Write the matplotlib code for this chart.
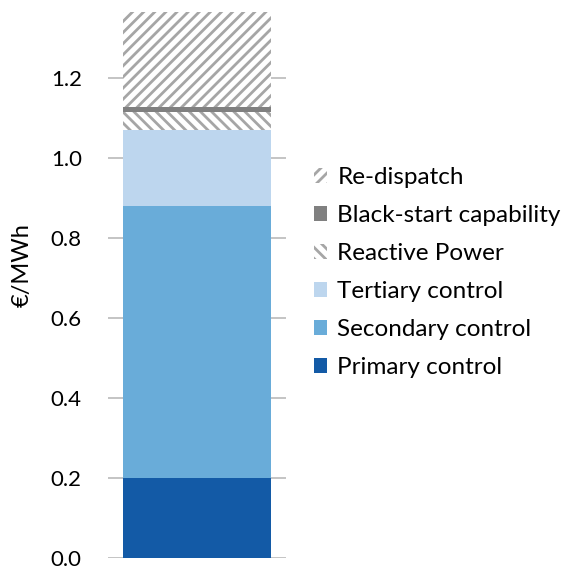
import matplotlib.pyplot as plt

plt.rcParams['hatch.linewidth'] = 2.0
plt.rcParams['hatch.color'] = '#a6a6a6'
plt.rcParams['font.family'] = ['Lato', 'DejaVu Sans']

# data (€/MWh)
components = ['Primary control', 'Secondary control', 'Tertiary control',
              'Reactive Power', 'Black-start capability', 'Re-dispatch']
values = [0.20, 0.68, 0.19, 0.045, 0.0125, 0.2375]
colors = ['#135aa6', '#69acd9', '#bdd6ee', 'white', '#808080', 'white']
hatches = [None, None, None, '\\\\\\', None, '///']

fig = plt.figure(figsize=(5.67, 5.71), dpi=100)
ax = fig.add_axes([0.19, 0.023, 0.314, 0.956])

bottom = 0
handles = []
for name, v, c, h in zip(components, values, colors, hatches):
    b = ax.bar(0, v, bottom=bottom, width=0.83, color=c, hatch=h,
               edgecolor='#a6a6a6' if h else c, linewidth=0, label=name, zorder=2)
    handles.append(b)
    bottom += v

ax.set_xlim(-0.5, 0.5)
ax.set_ylim(0, 1.365)
ax.set_yticks([0, 0.2, 0.4, 0.6, 0.8, 1.0, 1.2])
ax.set_yticklabels(['%.1f' % t for t in ax.get_yticks()], fontsize=16)
ax.set_xticks([])
ax.tick_params(axis='y', length=0, pad=18.7)
ax.yaxis.grid(True, color='#bfbfbf', linewidth=1.3, zorder=0)
ax.set_axisbelow(True)
for s in ax.spines.values():
    s.set_visible(False)
ax.set_ylabel('€/MWh', fontsize=17)
ax.yaxis.set_label_coords(-0.421, 0.537)

leg = fig.legend(handles[::-1], components[::-1], loc='upper left',
                 bbox_to_anchor=(0.515, 0.746), frameon=False,
                 prop={'size': 17.5}, handlelength=0.55,
                 handleheight=0.55, handletextpad=0.42, labelspacing=0.7)

fig.savefig('out.png', dpi=100)
